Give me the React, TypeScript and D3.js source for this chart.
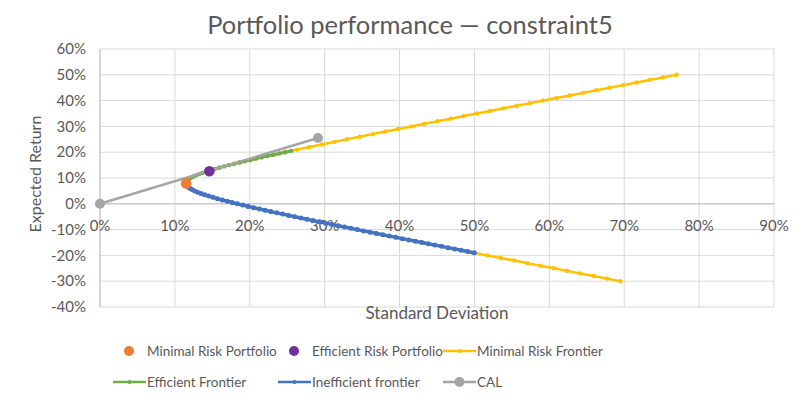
import * as d3 from 'd3'

// [standard deviation %, expected return %]
const minimalRiskPortfolio: [number, number][] = [[11.5, 7.9]]
const efficientRiskPortfolio: [number, number][] = [[14.6, 12.6]]

const minimalRiskFrontier: [number, number][] = [
  [69.49, -30], [67.71, -29], [65.93, -28], [64.15, -27], [62.37, -26], [60.59, -25], [58.82, -24], [57.05, -23],
  [55.28, -22], [53.51, -21], [51.75, -20], [49.98, -19], [48.23, -18], [46.47, -17], [44.72, -16], [42.98, -15],
  [41.24, -14], [39.5, -13], [37.78, -12], [36.06, -11], [34.35, -10], [32.65, -9], [30.97, -8], [29.3, -7],
  [27.64, -6], [26.01, -5], [24.4, -4], [22.82, -3], [21.28, -2], [19.78, -1], [18.34, 0], [16.97, 1],
  [15.69, 2], [14.52, 3], [13.49, 4], [12.64, 5], [12.0, 6], [11.61, 7], [11.5, 8], [11.67, 9],
  [12.11, 10], [12.79, 11], [13.68, 12], [14.74, 13], [15.93, 14], [17.24, 15], [18.62, 16], [20.08, 17],
  [21.58, 18], [23.13, 19], [24.72, 20], [26.33, 21], [27.97, 22], [29.63, 23], [31.3, 24], [32.99, 25],
  [34.69, 26], [36.4, 27], [38.12, 28], [39.85, 29], [41.59, 30], [43.33, 31], [45.07, 32], [46.82, 33],
  [48.58, 34], [50.34, 35], [52.1, 36], [53.86, 37], [55.63, 38], [57.4, 39], [59.18, 40], [60.95, 41],
  [62.73, 42], [64.51, 43], [66.29, 44], [68.07, 45], [69.85, 46], [71.63, 47], [73.42, 48], [75.21, 49],
  [77.0, 50],
]

const efficientFrontier: [number, number][] = [
  [11.5, 8], [11.55, 8.5], [11.67, 9], [11.86, 9.5], [12.11, 10], [12.42, 10.5], [12.79, 11], [13.21, 11.5],
  [13.68, 12], [14.19, 12.5], [14.74, 13], [15.32, 13.5], [15.93, 14], [16.57, 14.5], [17.24, 15], [17.92, 15.5],
  [18.62, 16], [19.34, 16.5], [20.08, 17], [20.82, 17.5], [21.58, 18], [22.35, 18.5], [23.13, 19], [23.92, 19.5],
  [24.72, 20], [25.52, 20.5],
]

const inefficientFrontier: [number, number][] = [
  [11.61, 7], [11.78, 6.5], [12.0, 6], [12.29, 5.5], [12.64, 5], [13.04, 4.5], [13.49, 4], [13.98, 3.5],
  [14.52, 3], [15.09, 2.5], [15.69, 2], [16.32, 1.5], [16.97, 1], [17.64, 0.5], [18.34, 0], [19.05, -0.5],
  [19.78, -1], [20.52, -1.5], [21.28, -2], [22.04, -2.5], [22.82, -3], [23.61, -3.5], [24.4, -4], [25.2, -4.5],
  [26.01, -5], [26.82, -5.5], [27.64, -6], [28.47, -6.5], [29.3, -7], [30.13, -7.5], [30.97, -8], [31.81, -8.5],
  [32.65, -9], [33.5, -9.5], [34.35, -10], [35.2, -10.5], [36.06, -11], [36.92, -11.5], [37.78, -12], [38.64, -12.5],
  [39.5, -13], [40.37, -13.5], [41.24, -14], [42.11, -14.5], [42.98, -15], [43.85, -15.5], [44.72, -16], [45.6, -16.5],
  [46.47, -17], [47.35, -17.5], [48.23, -18], [49.1, -18.5], [49.98, -19],
]

const cal: [number, number][] = [[0, 0], [29.1, 25.5]]

const xTicks = [0, 10, 20, 30, 40, 50, 60, 70, 80, 90]
const yTicks = [-40, -30, -20, -10, 0, 10, 20, 30, 40, 50, 60]

const FONT = 'Lato, "Open Sans", sans-serif'
const TEXT = '#595959'
const GRID = '#D9D9D9'

const COLORS = {
  minPort: '#ED7D31',
  effPort: '#7030A0',
  minFrontier: '#FFC000',
  effFrontier: '#70AD47',
  ineffFrontier: '#4472C4',
  cal: '#A5A5A5',
}

export default function App() {
  const W = 809
  const H = 405
  const x = d3.scaleLinear().domain([0, 90]).range([100, 774])
  const y = d3.scaleLinear().domain([-40, 60]).range([307, 49])
  const line = d3.line<[number, number]>().x(d => x(d[0])).y(d => y(d[1]))

  const lineSeries = [
    { data: minimalRiskFrontier, color: COLORS.minFrontier, width: 2.5, r: 2.2 },
    { data: efficientFrontier, color: COLORS.effFrontier, width: 3, r: 2.2 },
    { data: inefficientFrontier, color: COLORS.ineffFrontier, width: 3.4, r: 2.5 },
  ]

  // legend: three columns, two rows
  const cols = [113, 278, 443]
  const rows = [351, 382]
  const legend = [
    { label: 'Minimal Risk Portfolio', color: COLORS.minPort, kind: 'dot', col: 0, row: 0 },
    { label: 'Efficient Risk Portfolio', color: COLORS.effPort, kind: 'dot', col: 1, row: 0 },
    { label: 'Minimal Risk Frontier', color: COLORS.minFrontier, kind: 'line', col: 2, row: 0 },
    { label: 'Efficient Frontier', color: COLORS.effFrontier, kind: 'line', col: 0, row: 1 },
    { label: 'Inefficient frontier', color: COLORS.ineffFrontier, kind: 'line', col: 1, row: 1 },
    { label: 'CAL', color: COLORS.cal, kind: 'cal', col: 2, row: 1 },
  ]

  return (
    <svg width={W} height={H} style={{ position: 'absolute', left: 0, top: 0, background: '#fff' }}
      fontFamily={FONT}>
      <rect width={W} height={H} fill="#fff" />
      <text x={410} y={34} textAnchor="middle" fontSize={25.5} fill={TEXT}>
        Portfolio performance — constraint5
      </text>

      {/* grid */}
      {yTicks.map(t => (
        <line key={'gy' + t} x1={x(0)} x2={x(90)} y1={y(t)} y2={y(t)} stroke={GRID} strokeWidth={1} />
      ))}
      {xTicks.map(t => (
        <line key={'gx' + t} x1={x(t)} x2={x(t)} y1={y(-40)} y2={y(60)} stroke={GRID} strokeWidth={1} />
      ))}
      <line x1={x(0)} x2={x(0)} y1={y(-40)} y2={y(60)} stroke="#BFBFBF" strokeWidth={1} />
      <line x1={x(0)} x2={x(90)} y1={y(0)} y2={y(0)} stroke="#BFBFBF" strokeWidth={1} />

      {/* tick labels */}
      {yTicks.map(t => (
        <text key={'ty' + t} x={86} y={y(t)} dy="0.35em" textAnchor="end" fontSize={15} fill={TEXT}>{t}%</text>
      ))}
      {xTicks.map(t => (
        <text key={'tx' + t} x={x(t)} y={y(0) + 27} textAnchor="middle" fontSize={15} fill={TEXT}>{t}%</text>
      ))}

      <text transform={`translate(41,${(y(-40) + y(60)) / 2 - 4}) rotate(-90)`} textAnchor="middle" fontSize={16} fill={TEXT}>
        Expected Return
      </text>
      <text x={(x(0) + x(90)) / 2} y={319} textAnchor="middle" fontSize={17} fill={TEXT}>Standard Deviation</text>

      {/* frontier series */}
      {lineSeries.map((s, i) => (
        <g key={'s' + i}>
          <path d={line(s.data) ?? ''} fill="none" stroke={s.color} strokeWidth={s.width} strokeLinejoin="round" />
          {s.data.map((d, j) => (
            <circle key={j} cx={x(d[0])} cy={y(d[1])} r={s.r} fill={s.color} />
          ))}
        </g>
      ))}

      {/* CAL */}
      <path d={line(cal) ?? ''} fill="none" stroke={COLORS.cal} strokeWidth={2.5} />
      {cal.map((d, j) => (
        <circle key={'c' + j} cx={x(d[0])} cy={y(d[1])} r={5} fill={COLORS.cal} />
      ))}

      {/* portfolios */}
      {minimalRiskPortfolio.map((d, j) => (
        <circle key={'mp' + j} cx={x(d[0])} cy={y(d[1])} r={5.3} fill={COLORS.minPort} />
      ))}
      {efficientRiskPortfolio.map((d, j) => (
        <circle key={'ep' + j} cx={x(d[0])} cy={y(d[1])} r={5.3} fill={COLORS.effPort} />
      ))}

      {/* legend */}
      {legend.map(item => {
        const lx = cols[item.col]
        const ly = rows[item.row]
        return (
          <g key={item.label}>
            {item.kind === 'dot' && <circle cx={lx + 16} cy={ly} r={5} fill={item.color} />}
            {item.kind !== 'dot' && (
              <>
                <line x1={lx} x2={lx + 33} y1={ly} y2={ly} stroke={item.color} strokeWidth={2.5} />
                <circle cx={lx + 16.5} cy={ly} r={item.kind === 'cal' ? 5 : 2} fill={item.color} />
              </>
            )}
            <text x={lx + 34} y={ly} dy="0.35em" fontSize={13.5} fill={TEXT}>{item.label}</text>
          </g>
        )
      })}
    </svg>
  )
}
